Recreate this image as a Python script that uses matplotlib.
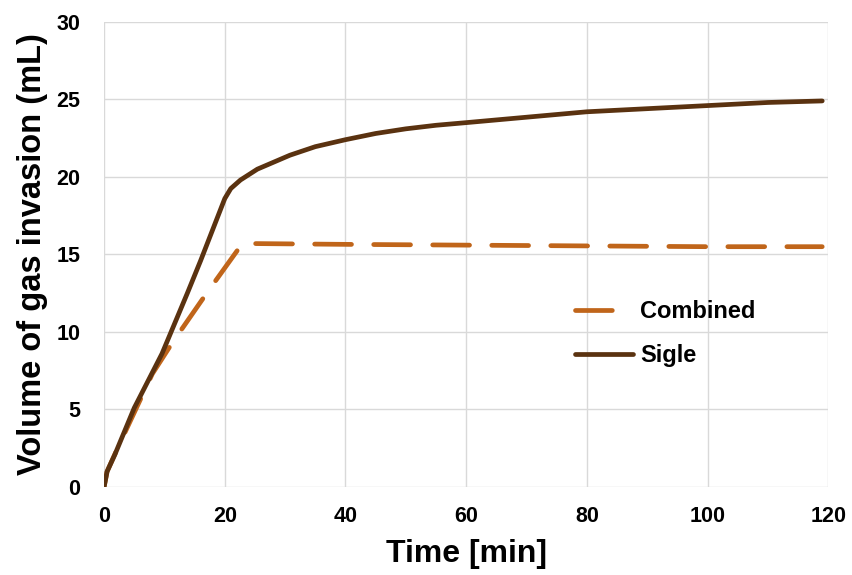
import matplotlib
matplotlib.use('Agg')
import matplotlib.pyplot as plt

plt.rcParams['font.family'] = ['Liberation Sans', 'DejaVu Sans']
plt.rcParams['font.weight'] = 'bold'

# Sigle (single) curve
t_sigle = [0, 0.5, 1.8, 5, 9.6, 13.8, 16, 18, 20, 21, 22.6, 25.4, 30.8, 35, 40, 45, 50, 55, 60, 70, 80, 90, 100, 110, 119]
v_sigle = [0, 1.0, 2.1, 5.1, 8.6, 12.5, 14.6, 16.6, 18.6, 19.25, 19.8, 20.5, 21.4, 21.95, 22.4, 22.8, 23.1, 23.33, 23.5, 23.85, 24.2, 24.4, 24.6, 24.8, 24.9]

# Combined curve
t_comb = [0, 0.5, 2, 5, 8, 11.3, 17, 22.9, 25, 40, 60, 80, 100, 119]
v_comb = [0, 1.0, 2.3, 4.8, 7.3, 9.3, 12.5, 15.7, 15.7, 15.65, 15.6, 15.55, 15.5, 15.5]

c_comb = '#C0651A'
c_sigle = '#5A3210'

fig = plt.figure(figsize=(8.53, 5.75), dpi=100)
ax = fig.add_axes([0.122, 0.153, 0.849, 0.809])

ax.plot(t_comb, v_comb, color=c_comb, lw=3.4, dashes=(7.8, 4.7),
        dash_capstyle='round', label='Combined')
ax.plot(t_sigle, v_sigle, color=c_sigle, lw=3.4, solid_capstyle='round', label='Sigle')

ax.set_xlim(0, 120)
ax.set_ylim(0, 30)
ax.set_xticks(range(0, 121, 20))
ax.set_yticks(range(0, 31, 5))
ax.grid(True, color='#D9D9D9', lw=1)
ax.set_axisbelow(True)
for s in ax.spines.values():
    s.set_visible(False)
ax.tick_params(axis='x', length=0, labelsize=15.5, pad=14)
ax.tick_params(axis='y', length=0, labelsize=15.5, pad=17)

ax.set_xlabel('Time [min]', fontsize=23, fontweight='bold', labelpad=8)
ax.set_ylabel('Volume of gas invasion (mL)', fontsize=23.5, fontweight='bold', labelpad=6)

fig.legend(loc='upper left', bbox_to_anchor=(0.674, 0.478), frameon=False,
           handlelength=2.45, handletextpad=0.3, labelspacing=0.9,
           borderpad=0, borderaxespad=0, prop={'weight': 'bold', 'size': 17})

fig.savefig('out.png', dpi=100)
